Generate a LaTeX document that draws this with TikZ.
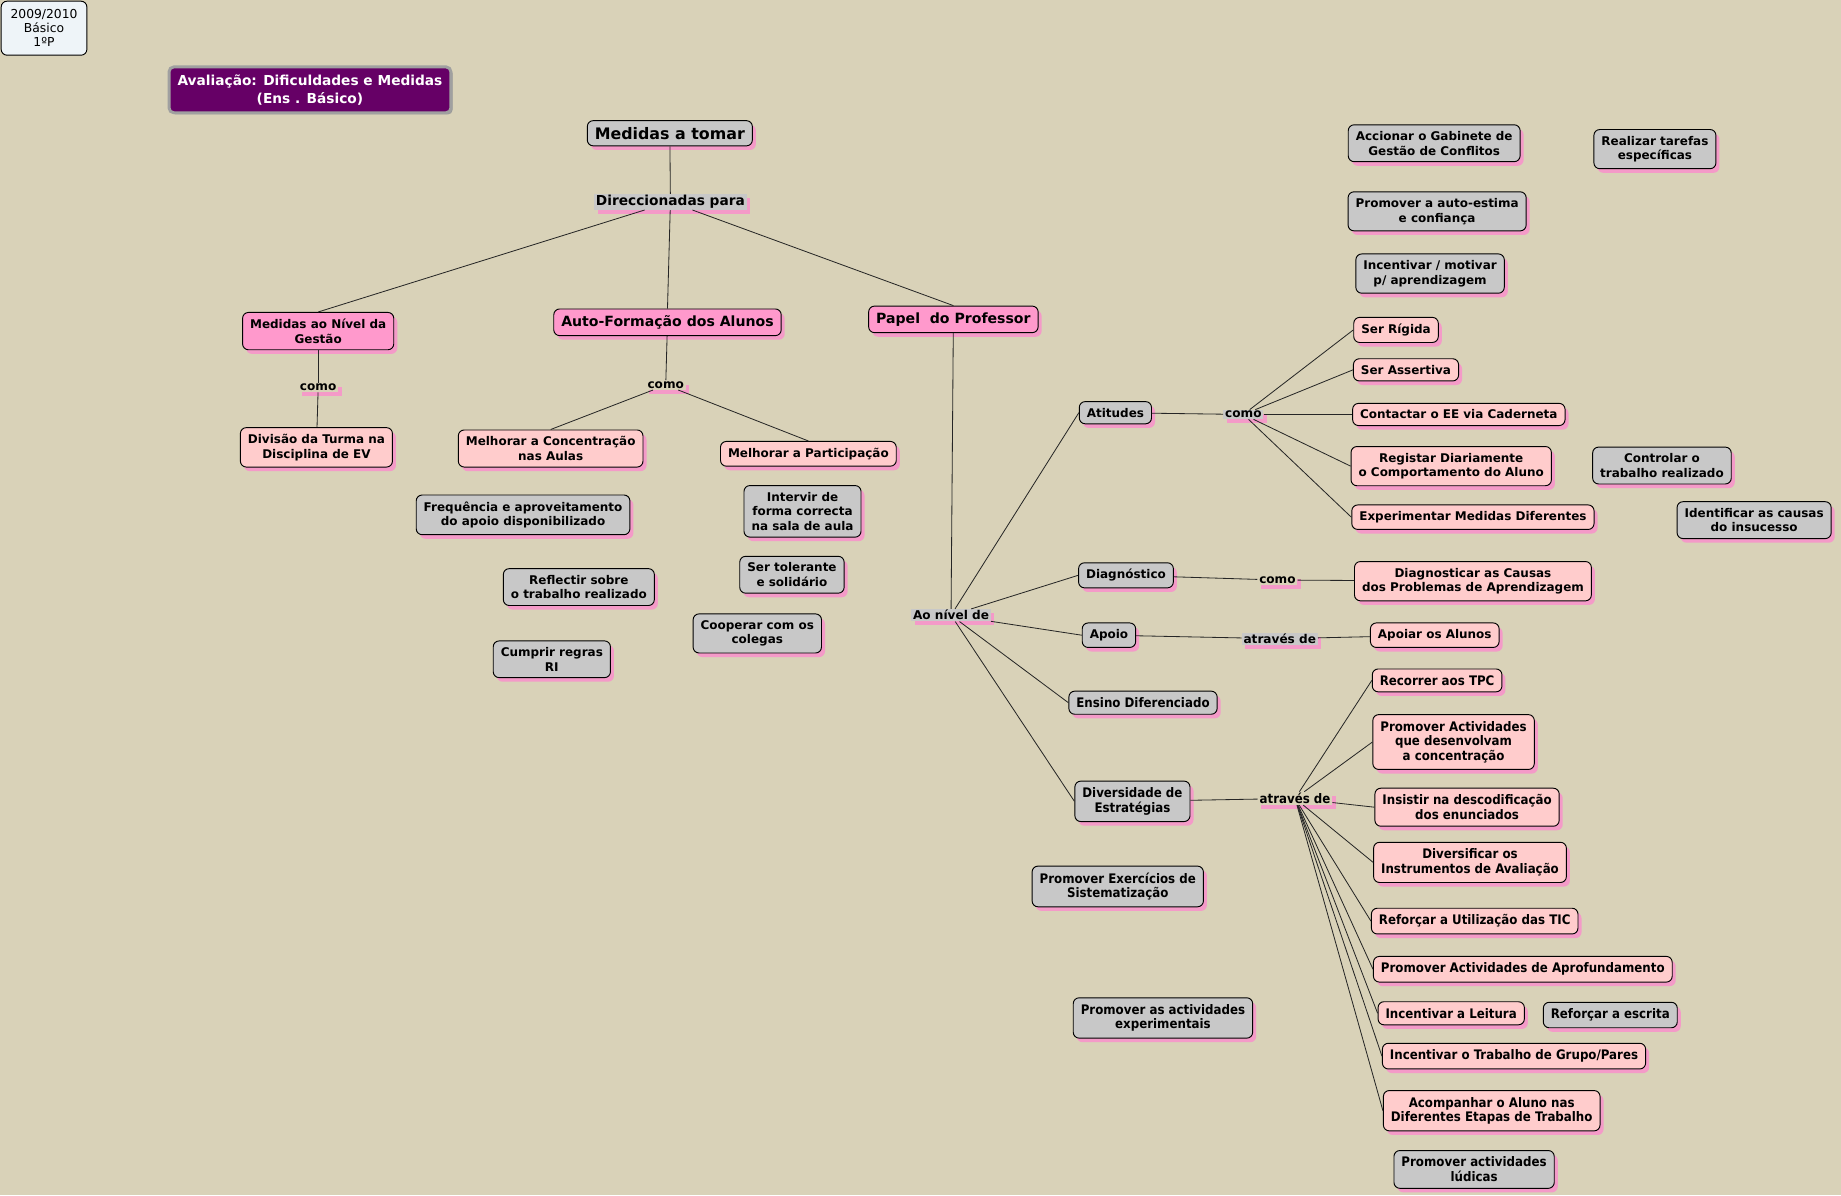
\documentclass[tikz,border=0pt]{standalone}
\usepackage{fontspec}
\setmainfont{DejaVu Sans}
\newfontfamily\condfont{DejaVu Sans Condensed}
\usepackage{tikz}
\usepackage{xcolor}
\usetikzlibrary{shadows}

\definecolor{mapbg}{HTML}{D9D2B8}
\definecolor{boxgrey}{HTML}{C8C8C8}
\definecolor{boxpink}{HTML}{FF99CC}
\definecolor{boxrose}{HTML}{FFCCCC}
\definecolor{shadepink}{HTML}{F49AC8}
\definecolor{titlepurple}{HTML}{660066}
\definecolor{titleedge}{HTML}{A0A0A0}
\definecolor{yearblue}{HTML}{EEF4F8}

\tikzset{
  pinkshadow/.style={drop shadow={shadow xshift=3pt, shadow yshift=-3.5pt, fill=shadepink, opacity=1}},
  concept/.style={draw=black, line width=0.8pt, rounded corners=5pt, align=center,
    font=\bfseries\fontsize{10.2}{12.5}\selectfont, inner xsep=6.4pt, inner ysep=5.5pt, pinkshadow},
  conceptgrey/.style={concept, fill=boxgrey},
  conceptpink/.style={concept, fill=boxpink},
  conceptrose/.style={concept, fill=boxrose},
  narrow/.style={font=\condfont\bfseries\fontsize{11.2}{12.5}\selectfont},
  big/.style={font=\bfseries\fontsize{12}{14}\selectfont},
  link/.style={inner xsep=1.5pt, inner ysep=1pt, fill=mapbg, font=\bfseries\fontsize{10.3}{12}\selectfont, pinkshadow},
  linkgrey/.style={link, fill=boxgrey},
  connector/.style={draw=black!85, line width=0.7pt},
}

\begin{document}
\begin{tikzpicture}[x=1pt, y=-1pt]

    \fill[mapbg] (0,0) rectangle (1568,1018);
    \useasboundingbox (0,0) rectangle (1568,1018);

    \node[draw=black, line width=0.8pt, fill=yearblue, rounded corners=5pt, align=center,
          font=\fontsize{10.5}{12}\selectfont, minimum width=73pt, minimum height=46pt]
          (ano) at (37.5,24) {2009/2010\\Básico\\1ºP};
    \node[fill=titlepurple, draw=titleedge, line width=2.5pt, rounded corners=4pt, align=center,
          text=white, font=\bfseries\fontsize{11.7}{15}\selectfont, minimum width=240pt, minimum height=39pt,
          drop shadow={shadow xshift=1.5pt, shadow yshift=-1.5pt, fill=black!40, opacity=1}]
          (titulo) at (264,76.5) {Avaliação: Dificuldades e Medidas\\(Ens . Básico)};

    \node[conceptgrey, font=\bfseries\fontsize{13.5}{16}\selectfont] (medidas) at (570.5,113.5) {Medidas a tomar};
    \node[linkgrey, font=\bfseries\fontsize{11.7}{14}\selectfont] (direcc) at (571,172) {Direccionadas para};

    \node[conceptpink] (gestao) at (271,282) {Medidas ao Nível da\\Gestão};
    \node[link] (comoA) at (271,330) {como};
    \node[conceptrose] (divisao) at (269.5,381) {Divisão da Turma na\\Disciplina de EV};

    \node[conceptpink, big] (autoform) at (568.5,274.5) {Auto-Formação dos Alunos};
    \node[link] (comoB) at (567,328) {como};
    \node[conceptrose] (concent) at (469,382) {Melhorar a Concentração\\nas Aulas};
    \node[conceptrose] (particip) at (688.5,386.5) {Melhorar a Participação};
    \node[conceptgrey] (frequencia) at (445.5,438.5) {Frequência e aproveitamento\\do apoio disponibilizado};
    \node[conceptgrey] (intervir) at (683.5,435.5) {Intervir de\\forma correcta\\na sala de aula};
    \node[conceptgrey] (reflectir) at (493,500) {Reflectir sobre\\o trabalho realizado};
    \node[conceptgrey] (tolerante) at (674.5,489.5) {Ser tolerante\\e solidário};
    \node[conceptgrey] (cooperar) at (645,539.5) {Cooperar com os\\colegas};
    \node[conceptgrey] (regras) at (470,561.5) {Cumprir regras\\RI};

    \node[conceptpink, big] (papel) at (812,272) {Papel\ \ do Professor};
    \node[linkgrey] (nivel) at (810,524) {Ao nível de};

    \node[conceptgrey] (atitudes) at (950,351.5) {Atitudes};
    \node[linkgrey] (comoC) at (1059,353) {como};
    \node[conceptgrey] (diagnostico) at (959,490) {Diagnóstico};
    \node[link] (comoD) at (1088,494) {como};
    \node[conceptgrey] (apoio) at (944.5,541) {Apoio};
    \node[linkgrey] (atravesA) at (1090,544) {através de};
    \node[conceptgrey, narrow] (ensino) at (973.5,598.5) {Ensino Diferenciado};
    \node[conceptgrey, narrow] (diversidade) at (964.5,682.5) {Diversidade de\\Estratégias};
    \node[link, narrow] (atravesB) at (1103,680) {através de};
    \node[conceptgrey, narrow] (exercicios) at (952,755) {Promover Exercícios de\\Sistematização};
    \node[conceptgrey, narrow] (experimentais) at (990.5,867) {Promover as actividades\\experimentais};

    \node[conceptgrey] (gabinete) at (1221.5,122) {Accionar o Gabinete de\\Gestão de Conflitos};
    \node[conceptgrey] (tarefas) at (1409.5,127) {Realizar tarefas\\específicas};
    \node[conceptgrey] (autoestima) at (1224,180) {Promover a auto-estima\\e confiança};
    \node[conceptgrey] (motivar) at (1218,233) {Incentivar / motivar\\p/ aprendizagem};
    \node[conceptrose] (rigida) at (1189,281) {Ser Rígida};
    \node[conceptrose] (assertiva) at (1197.5,315) {Ser Assertiva};
    \node[conceptrose] (caderneta) at (1242.5,353) {Contactar o EE via Caderneta};
    \node[conceptrose] (registar) at (1236,397) {Registar Diariamente\\o Comportamento do Aluno};
    \node[conceptgrey] (controlar) at (1415.5,396.5) {Controlar o\\trabalho realizado};
    \node[conceptrose] (experimentar) at (1254.5,440.5) {Experimentar Medidas Diferentes};
    \node[conceptgrey] (insucesso) at (1494,443) {Identificar as causas\\do insucesso};
    \node[conceptrose] (causas) at (1254.5,495) {Diagnosticar as Causas\\dos Problemas de Aprendizagem};
    \node[conceptrose] (apoiar) at (1222,541) {Apoiar os Alunos};

    \node[conceptrose, narrow] (tpc) at (1224,579.5) {Recorrer aos TPC};
    \node[conceptrose, narrow] (concentracao) at (1238,632) {Promover Actividades\\que desenvolvam\\a concentração};
    \node[conceptrose, narrow] (enunciados) at (1249.5,687.5) {Insistir na descodificação\\dos enunciados};
    \node[conceptrose, narrow] (instrumentos) at (1252,734.5) {Diversificar os\\Instrumentos de Avaliação};
    \node[conceptrose, narrow] (tic) at (1256,784.5) {Reforçar a Utilização das TIC};
    \node[conceptrose, narrow] (aprofund) at (1297,825.5) {Promover Actividades de Aprofundamento};
    \node[conceptrose, narrow] (leitura) at (1236,863) {Incentivar a Leitura};
    \node[conceptgrey, narrow] (escrita) at (1371.5,864.5) {Reforçar a escrita};
    \node[conceptrose, narrow] (grupo) at (1289.5,899.5) {Incentivar o Trabalho de Grupo/Pares};
    \node[conceptrose, narrow] (acompanhar) at (1270.5,946) {Acompanhar o Aluno nas\\Diferentes Etapas de Trabalho};
    \node[conceptgrey, narrow] (ludicas) at (1255.5,996) {Promover actividades\\lúdicas};

    \path[connector]
        (medidas) edge (direcc)
        (direcc) edge (gestao.north)
        (direcc) edge (autoform.north)
        (direcc) edge (papel.north)
        (gestao) edge (comoA)
        (comoA) edge (divisao)
        (autoform) edge (comoB)
        (comoB) edge (concent.north)
        (comoB) edge (particip.north)
        (papel) edge (nivel)
        (nivel) edge (atitudes.west)
        (nivel) edge (diagnostico.west)
        (nivel) edge (apoio.west)
        (nivel) edge (ensino.west)
        (nivel) edge (diversidade.west)
        (atitudes) edge (comoC)
        (comoC) edge (rigida.west)
        (comoC) edge (assertiva.west)
        (comoC) edge (caderneta.west)
        (comoC) edge (registar.west)
        (comoC) edge (experimentar.west)
        (diagnostico) edge (comoD)
        (comoD) edge (causas)
        (apoio) edge (atravesA)
        (atravesA) edge (apoiar)
        (diversidade) edge (atravesB)
        (atravesB) edge (tpc.west)
        (atravesB) edge (concentracao.west)
        (atravesB) edge (enunciados.west)
        (atravesB) edge (instrumentos.west)
        (atravesB) edge (tic.west)
        (atravesB) edge (aprofund.west)
        (atravesB) edge (leitura.west)
        (atravesB) edge (grupo.west)
        (atravesB) edge (acompanhar.west);
\end{tikzpicture}
\end{document}
